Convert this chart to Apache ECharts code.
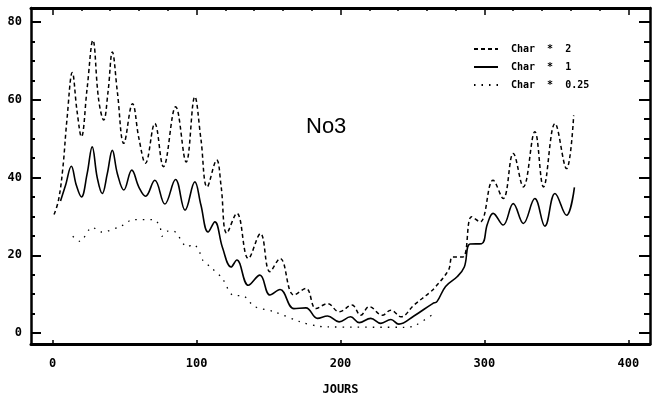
<!DOCTYPE html>
<html>
<head>
<meta charset="utf-8">
<script src="https://cdn.jsdelivr.net/npm/echarts@6/dist/echarts.min.js"></script>
<style>
  html, body { margin: 0; padding: 0; background: #fff; }
  #chart { width: 660px; height: 397px; }
</style>
</head>
<body>
<div id="chart"></div>
<script>
// Char * 2 (dashed)
const char2Days = [1, 4, 7, 10, 13.7, 17, 20, 24, 28, 32, 35.5, 38.5, 41.5, 45, 49.5, 55.5, 60, 64.5, 71, 77, 85.5, 92.8, 98.8, 103, 107.4, 114, 117, 121, 128, 136, 144.4, 151, 158, 167.6, 176, 183, 191, 199, 208, 214, 220, 229, 235, 242, 251, 262.5, 266, 275, 278, 285, 291, 297, 306, 313, 320, 327, 335, 341, 349, 357, 362]
const char2Vals = [30.5, 34, 42, 55, 67, 57, 50.5, 63, 75.3, 60, 54.8, 62, 72.3, 62, 48.8, 59, 50, 43.7, 53.9, 42.8, 58.2, 44, 60.8, 50, 37.6, 44.5, 38, 25.7, 30.8, 19.2, 25.6, 15.8, 19.2, 9.8, 11.5, 6.3, 7.6, 5.5, 7.2, 4.6, 6.8, 4.6, 5.9, 4.2, 7.2, 10.6, 11.9, 16.2, 19.6, 19.6, 29.9, 28.6, 39.3, 34.6, 46.2, 37.6, 51.8, 37.6, 53.9, 42.3, 56]

// Char * 1 (solid)
const char1Days = [5.5, 9, 13, 16.5, 20, 24, 27.5, 31, 34.5, 38, 41.5, 45, 49.5, 55, 60, 64.6, 71, 78, 85.4, 92, 98.8, 103, 108, 112.7, 118, 124, 128, 136, 144, 151, 158, 167.6, 176, 184, 191, 199, 207, 213, 221, 228, 235, 240.5, 251, 264, 267, 273, 281, 286, 290, 298, 302, 306, 313, 320, 327, 335, 342, 349, 357, 362.5]
const char1Vals = [34, 38, 42.9, 38, 35, 41, 47.9, 40, 35.9, 41, 47, 41, 36.8, 41.9, 37.5, 35.2, 39.3, 33.2, 39.5, 31.6, 38.9, 33, 26, 28.6, 22, 17, 18.8, 12.3, 14.9, 9.8, 11.2, 6.3, 6.5, 3.8, 4.4, 2.9, 4.2, 2.7, 3.8, 2.5, 3.5, 2.3, 4.4, 7.6, 8.1, 12, 14.5, 17, 22.9, 23, 28, 30.8, 27.8, 33.3, 28.2, 34.6, 27.5, 35.9, 30.3, 37.5]

// Char * 0.25 (dotted)
const char025Days = [14, 19, 27.5, 34, 48, 56, 70, 74.5, 76, 80, 84, 93.5, 98, 102, 104, 110, 118, 125, 133, 140, 154, 172, 184, 190, 245, 252, 266]
const char025Vals = [24.9, 23.6, 27.2, 26, 27.6, 29.2, 29.2, 27.5, 24.9, 26.2, 26.2, 22.2, 22.8, 20.9, 18.9, 16.9, 14, 9.8, 9.5, 6.9, 5.5, 2.9, 1.8, 1.6, 1.5, 2, 5.3]

const xLabels = [0, 100, 200, 300, 400]
const xMinorTicks = [0, 20, 40, 60, 80, 100, 120, 140, 160, 180, 200, 220, 240, 260, 280, 300, 320, 340, 360, 380, 400]
const yLabels = [0, 20, 40, 60, 80]
const yMinorTicks = [0, 5, 10, 15, 20, 25, 30, 35, 40, 45, 50, 55, 60, 65, 70, 75, 80]

const zip = (a, b) => a.map((d, i) => [d, b[i]])

const chart = echarts.init(document.getElementById('chart'))
const monoFont = 'DejaVu Sans Mono'
const xMin = -15, xMax = 415, yMin = -2.8, yMax = 83.6

const option = {
  backgroundColor: '#fff',
  animation: false,
  title: {
    text: 'No3',
    left: 306,
    top: 116,
    padding: 0,
    textStyle: { fontFamily: 'Liberation Sans', fontSize: 22, fontWeight: 'normal', color: '#000' }
  },
  legend: {
    orient: 'vertical',
    left: 473,
    top: 44,
    padding: 0,
    itemWidth: 24,
    itemHeight: 12,
    itemGap: 8,
    itemStyle: { opacity: 0 },
    textStyle: { fontFamily: monoFont, fontSize: 10, fontWeight: 'bold', color: '#000', padding: [0, 0, 0, 8] },
    data: ['Char  *  2', 'Char  *  1', 'Char  *  0.25']
  },
  grid: { left: 31, right: 10, top: 8, bottom: 53, outerBoundsMode: 'none', containLabel: false },
  xAxis: [
    {
      type: 'value', min: xMin, max: xMax, position: 'bottom',
      name: 'JOURS', nameLocation: 'middle', nameGap: 40,
      nameTextStyle: { fontFamily: monoFont, fontSize: 12, fontWeight: 'bold', color: '#000' },
      axisLine: { onZero: false, lineStyle: { color: '#000', width: 3 } },
      axisTick: { inside: true, length: 4, customValues: xLabels, lineStyle: { color: '#000', width: 1.5 } },
      axisLabel: { customValues: xLabels, margin: 14, fontFamily: monoFont, fontSize: 12, fontWeight: 'bold', color: '#000' },
      splitLine: { show: false }
    },
    {
      type: 'value', min: xMin, max: xMax, position: 'top',
      axisLine: { onZero: false, lineStyle: { color: '#000', width: 3 } },
      axisTick: { inside: true, length: 3, customValues: xMinorTicks, lineStyle: { color: '#000', width: 1.5 } },
      axisLabel: { show: false },
      splitLine: { show: false }
    },
    {
      type: 'value', min: xMin, max: xMax, position: 'top',
      axisLine: { show: false, onZero: false },
      axisTick: { inside: true, length: 7, customValues: xLabels, lineStyle: { color: '#000', width: 1.5 } },
      axisLabel: { show: false },
      splitLine: { show: false }
    }
  ],
  yAxis: [
    {
      type: 'value', min: yMin, max: yMax, position: 'left',
      axisLine: { show: true, onZero: false, lineStyle: { color: '#000', width: 2.5 } },
      axisTick: { show: true, inside: true, length: 10, customValues: yLabels, lineStyle: { color: '#000', width: 2 } },
      axisLabel: { customValues: yLabels, margin: 9, fontFamily: monoFont, fontSize: 12, fontWeight: 'bold', color: '#000' },
      splitLine: { show: false }
    },
    {
      type: 'value', min: yMin, max: yMax, position: 'left',
      axisLine: { show: false, onZero: false },
      axisTick: { show: true, inside: true, length: 4, customValues: yMinorTicks, lineStyle: { color: '#000', width: 2 } },
      axisLabel: { show: false },
      splitLine: { show: false }
    },
    {
      type: 'value', min: yMin, max: yMax, position: 'right',
      axisLine: { show: true, onZero: false, lineStyle: { color: '#000', width: 2.5 } },
      axisTick: { show: true, inside: true, length: 11, customValues: yLabels, lineStyle: { color: '#000', width: 2 } },
      axisLabel: { show: false },
      splitLine: { show: false }
    },
    {
      type: 'value', min: yMin, max: yMax, position: 'right',
      axisLine: { show: false, onZero: false },
      axisTick: { show: true, inside: true, length: 6, customValues: yMinorTicks, lineStyle: { color: '#000', width: 2 } },
      axisLabel: { show: false },
      splitLine: { show: false }
    }
  ],
  series: [
    {
      name: 'Char  *  2', type: 'line', smooth: 0.4, symbol: 'none',
      data: zip(char2Days, char2Vals),
      lineStyle: { color: '#000', width: 1.5, type: [4, 3] },
      itemStyle: { color: '#000' }
    },
    {
      name: 'Char  *  1', type: 'line', smooth: 0.4, symbol: 'none',
      data: zip(char1Days, char1Vals),
      lineStyle: { color: '#000', width: 1.6, type: 'solid' },
      itemStyle: { color: '#000' }
    },
    {
      name: 'Char  *  0.25', type: 'line', smooth: 0.3, symbol: 'none',
      data: zip(char025Days, char025Vals),
      lineStyle: { color: '#000', width: 1.3, type: [1.5, 6] },
      itemStyle: { color: '#000' }
    }
  ]
}
chart.setOption(option)
</script>
</body>
</html>
